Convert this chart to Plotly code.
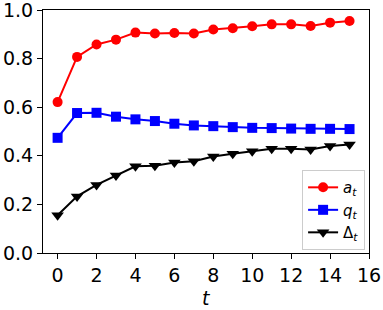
import plotly.graph_objects as go

t = list(range(16))
a_t = [0.621, 0.807, 0.858, 0.878, 0.907, 0.903, 0.905, 0.903, 0.920, 0.925,
       0.933, 0.941, 0.941, 0.934, 0.948, 0.955]
q_t = [0.474, 0.576, 0.577, 0.561, 0.550, 0.543, 0.532, 0.525, 0.522, 0.518,
       0.515, 0.514, 0.512, 0.511, 0.511, 0.510]
d_t = [0.155, 0.233, 0.280, 0.319, 0.357, 0.359, 0.372, 0.378, 0.397, 0.408,
       0.419, 0.429, 0.429, 0.426, 0.440, 0.447]

names = ["<i>a</i><sub><i>t</i></sub>", "<i>q</i><sub><i>t</i></sub>", "Δ<sub><i>t</i></sub>"]
series = [a_t, q_t, d_t]
colors = ["#ff0000", "#0000ff", "#000000"]
symbols = ["circle", "square", "triangle-down"]
sizes = [10, 10, 11]

fig = go.Figure()
for name, ys, c, s, sz in zip(names, series, colors, symbols, sizes):
    fig.add_trace(go.Scatter(
        x=t, y=ys, name=name, mode="lines+markers",
        line=dict(color=c, width=2),
        marker=dict(color=c, symbol=s, size=sz, line=dict(width=0)),
    ))

font = dict(family="DejaVu Sans", size=19, color="black")
fig.update_layout(
    width=383, height=310,
    margin=dict(l=43, r=14, t=10, b=57, autoexpand=False),
    paper_bgcolor="white", plot_bgcolor="white",
    font=font,
    showlegend=True,
    legend=dict(
        x=0.988, y=0.012, xanchor="right", yanchor="bottom",
        bgcolor="rgba(255,255,255,0.8)", bordercolor="#cccccc", borderwidth=1,
        font=dict(family="DejaVu Sans", size=15, color="black"),
        itemwidth=30, tracegroupgap=0,
    ),
    xaxis=dict(
        range=[-0.75, 16], tickmode="linear", tick0=0, dtick=2,
        showgrid=False, zeroline=False, automargin=False,
        showline=True, linecolor="black", linewidth=1, mirror=True,
        ticks="outside", ticklen=5, tickcolor="black", tickwidth=1,
        ticklabeloverflow="allow",
    ),
    yaxis=dict(
        range=[0, 1.0], tickmode="linear", tick0=0, dtick=0.2, tickformat=".1f",
        showgrid=False, zeroline=False, automargin=False,
        showline=True, linecolor="black", linewidth=1, mirror=True,
        ticks="outside", ticklen=5, tickcolor="black", tickwidth=1,
        ticklabeloverflow="allow",
    ),
    annotations=[dict(
        text="<i>t</i>", xref="paper", yref="paper", x=0.5, y=-0.185,
        xanchor="center", yanchor="middle", showarrow=False, font=font,
    )],
)

fig.write_html("out.html", config={"displayModeBar": False},
               post_script="document.body.style.margin='0';")
